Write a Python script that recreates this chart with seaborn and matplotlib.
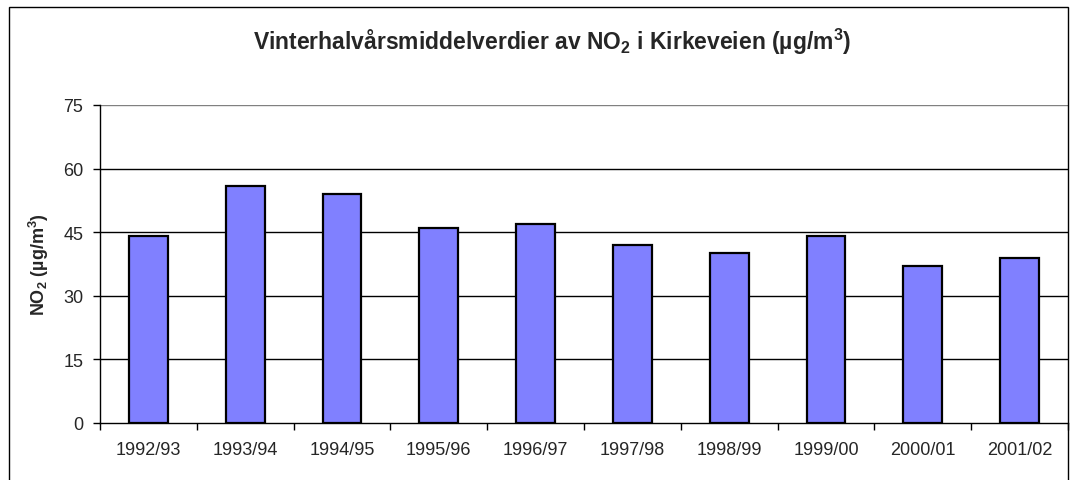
import numpy as np
import pandas as pd
import matplotlib
matplotlib.use("Agg")
import matplotlib.pyplot as plt
import seaborn as sns
from matplotlib.patches import Rectangle
from matplotlib.ticker import FixedLocator

sns.set_theme(style="white")
plt.rcParams['font.family'] = ['Liberation Sans', 'DejaVu Sans']
plt.rcParams['mathtext.fontset'] = 'custom'
plt.rcParams['mathtext.rm'] = 'Liberation Sans'
plt.rcParams['mathtext.bf'] = 'Liberation Sans:bold'

seasons = ['1992/93', '1993/94', '1994/95', '1995/96', '1996/97',
           '1997/98', '1998/99', '1999/00', '2000/01', '2001/02']
no2 = [44, 56, 54, 46, 47, 42, 40, 44, 37, 39]
yticks = [0, 15, 30, 45, 60, 75]

df = pd.DataFrame({'Season': seasons, 'NO2': no2})

fig = plt.figure(figsize=(10.71, 4.81), dpi=100)
ax = fig.add_axes([100 / 1071, 57 / 481, 968 / 1071, 318 / 481])

sns.barplot(data=df, x='Season', y='NO2', color='#8080FF', saturation=1,
            width=0.4, edgecolor='black', linewidth=1.6, ax=ax, zorder=3)

ax.set_ylim(0, 75)
ax.set_xlim(-0.5, len(seasons) - 0.5)
ax.set_yticks(yticks)
for y in yticks[1:]:
    ax.axhline(y, color='black' if y < 75 else '#808080', linewidth=1, zorder=1)

for side in ['top', 'right']:
    ax.spines[side].set_visible(False)
ax.spines['left'].set_color('black')
ax.spines['bottom'].set_color('black')
ax.spines['left'].set_linewidth(1)
ax.spines['bottom'].set_linewidth(1)

ax.tick_params(axis='y', which='major', direction='out', length=5, width=1,
               color='black', labelsize=13, pad=7, left=True)
ax.tick_params(axis='x', which='major', length=0, labelsize=13, pad=13)
ax.xaxis.set_minor_locator(FixedLocator(np.arange(-0.5, len(seasons) + 0.5, 1)))
ax.tick_params(axis='x', which='minor', direction='out', length=5, width=1,
               color='black', bottom=True)

ax.set_xlabel('')
ax.set_ylabel(r'NO$\mathbf{_2}$ (µg/m$\mathbf{^3}$)', fontsize=13,
              fontweight='bold', labelpad=9)

fig.text(552 / 1071, 1 - 42 / 481,
         r'Vinterhalvårsmiddelverdier av NO$\mathbf{_2}$ i Kirkeveien (µg/m$\mathbf{^3}$)',
         ha='center', va='center', fontsize=16.5, fontweight='bold')

# outer chart frame
fig.patches.append(Rectangle((9 / 1071, -0.05), 1059 / 1071, 1.05 - 8 / 481,
                             transform=fig.transFigure, fill=False,
                             edgecolor='black', linewidth=1))

fig.savefig('out.png', dpi=100)
